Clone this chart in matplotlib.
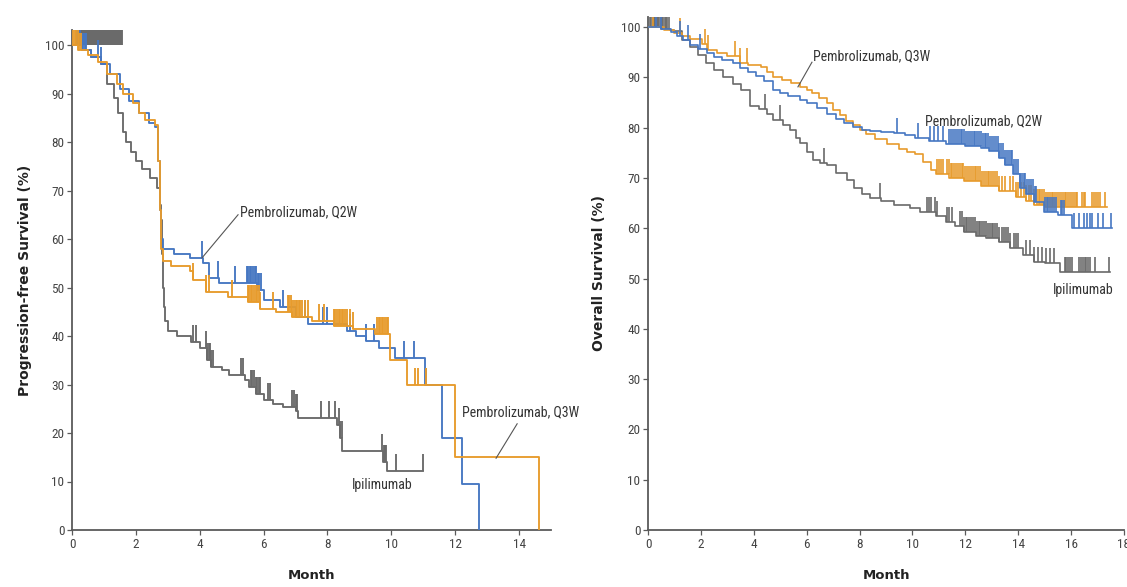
import numpy as np
import matplotlib.pyplot as plt
from matplotlib import font_manager

# colours for the three arms
c_q2w = '#4677c2'
c_q3w = '#e79b2c'
c_ipi = '#6a6a6a'

## progression-free survival, step points (month, %)
pfs_q2w_t = [0, 0.3, 0.6, 0.9, 1.2, 1.5, 1.8, 2.1, 2.4, 2.6, 2.7, 2.75, 2.8, 2.85, 3.2, 3.7, 4.1, 4.3, 4.6,
             5.8, 6.0, 6.5, 7.0, 7.4, 8.6, 8.9, 9.2, 9.6, 10.1, 11.05, 11.6, 12.2, 12.75]
pfs_q2w_s = [100, 99, 97.5, 96, 94, 91, 88.5, 86, 84, 83, 76, 66, 60, 58, 57, 56, 55, 52, 51,
             49.5, 47.5, 46, 44, 42.5, 41, 40, 39, 37.5, 35.5, 30, 19, 9.5, 0]
pfs_q2w_cens = [0.15, 0.2, 0.25, 0.3, 0.35, 0.4, 0.45, 0.8, 0.9, 4.06, 4.58, 5.1, 5.47, 5.52, 5.57, 5.62,
                5.67, 5.72, 5.77, 5.82, 5.87, 5.92, 6.6, 7.3, 7.87, 8.0, 8.7, 9.2, 9.45, 10.4, 10.7, 11.1]

pfs_q3w_t = [0, 0.2, 0.5, 0.8, 1.1, 1.4, 1.6, 1.9, 2.1, 2.3, 2.6, 2.7, 2.75, 2.8, 2.85, 3.1, 3.7, 3.8, 4.2,
             4.9, 5.5, 5.9, 6.4, 6.9, 7.5, 8.2, 8.8, 9.5, 9.95, 10.5, 12.0, 14.62]
pfs_q3w_s = [100, 99, 98, 96.5, 94, 92, 90, 88, 86, 84.5, 83.5, 76, 66, 58, 55.5, 54.5, 53.5, 51.5, 49,
             48, 47, 45.5, 45, 44, 43, 42, 41.5, 40.5, 35, 30, 15, 0]
pfs_q3w_cens = [0.03, 0.08, 0.13, 0.18, 0.23, 0.28, 3.8, 4.2, 4.3, 5.0, 5.5, 5.55, 5.6, 5.65, 5.7, 5.75,
                5.8, 5.85, 5.9, 6.3, 6.75, 6.8, 6.85, 6.9, 6.95, 7.0, 7.05, 7.1, 7.15, 7.2, 7.3, 7.4,
                7.75, 7.9, 8.2, 8.25, 8.3, 8.35, 8.4, 8.45, 8.5, 8.55, 8.6, 8.7, 8.8, 9.55, 9.6, 9.65,
                9.7, 9.75, 9.8, 9.85, 9.9, 10.75, 10.85, 11.1]

pfs_ipi_t = [0, 0.3, 0.6, 0.9, 1.1, 1.3, 1.45, 1.6, 1.7, 1.85, 2.0, 2.2, 2.45, 2.65, 2.75, 2.8, 2.83,
             2.86, 2.88, 2.92, 3.0, 3.3, 3.73, 4.0, 4.22, 4.35, 4.7, 4.93, 5.41, 5.55, 5.75, 6.0, 6.3,
             6.61, 7.0, 7.09, 8.29, 8.4, 8.47, 9.74, 9.86]
pfs_ipi_s = [100, 99, 97.5, 96, 92, 89, 86, 82, 80, 78, 76, 74.5, 72.5, 70.5, 67, 64, 57,
             50, 46, 43, 41, 40, 38.8, 37.5, 35, 33.7, 33, 32, 31, 29.5, 28, 26.9, 26,
             25.4, 24.5, 23.1, 21.7, 19, 16.2, 14, 12.1]
pfs_ipi_end = 11.0
pfs_ipi_cens = [3.79, 3.89, 4.2, 4.24, 4.28, 4.32, 4.36, 4.4, 5.29, 5.35, 5.6, 5.65, 5.7, 5.75, 5.8,
                5.85, 5.9, 6.15, 6.2, 6.9, 6.95, 7.0, 7.05, 7.81, 8.05, 8.23, 8.36, 8.4, 8.44,
                9.72, 9.76, 9.8, 9.84, 10.16, 11.0]
# patients censored at the start, drawn on the 100% line
pfs_ipi_start_cens = [0.22, 0.28, 0.34, 0.4, 0.46, 0.52, 0.58, 0.64, 0.7, 0.76, 0.82, 0.88, 0.94,
                      1.0, 1.06, 1.12, 1.18, 1.24, 1.3, 1.36, 1.42, 1.48, 1.54]

## overall survival, step points (month, %)
os_q2w_t = [0, 0.5, 0.86, 1.1, 1.34, 1.6, 1.9, 2.22, 2.5, 2.8, 3.22, 3.48, 3.8, 4.1, 4.4, 4.74, 5.0, 5.3,
            5.75, 6.0, 6.4, 6.76, 7.1, 7.4, 7.76, 8.1, 8.38, 8.8, 9.3, 9.7, 10.09, 10.62, 11.28, 12.0,
            12.6, 12.9, 13.26, 13.5, 13.79, 14.05, 14.3, 14.58, 14.97, 15.5, 16.03]
os_q2w_s = [100, 99.6, 99, 98.2, 97.4, 96.5, 95.6, 94.8, 94, 93.4, 92.8, 91.8, 91, 90.2, 89.3, 87.5, 86.8,
            86.2, 85.5, 84.8, 83.8, 82.8, 81.8, 81, 80.2, 79.6, 79.3, 79.1, 79.0, 78.5, 78.0, 77.3, 76.7,
            76.3, 76.0, 75.4, 74.0, 72.5, 70.7, 68.0, 66.7, 65.3, 63.3, 62.6, 60.0]
os_q2w_end = 17.55
os_q2w_cens = [0.3, 0.5, 1.21, 1.52, 1.97, 9.4, 10.22, 10.66, 10.8, 10.95, 11.16, 11.4, 11.47, 11.54,
               11.61, 11.68, 11.75, 11.82, 11.89, 11.96, 12.03, 12.1, 12.17, 12.24, 12.31, 12.38, 12.45,
               12.52, 12.59, 12.66, 12.73, 12.8, 12.87, 12.94, 13.01, 13.08, 13.15, 13.22, 13.29, 13.36,
               13.43, 13.5, 13.57, 13.64, 13.71, 13.78, 13.85, 13.92, 13.99, 14.06, 14.13, 14.2, 14.27,
               14.34, 14.41, 14.48, 14.55, 14.62, 14.69, 15.0, 15.07, 15.14, 15.21, 15.28, 15.35, 15.42,
               15.6, 15.67, 15.74, 16.1, 16.3, 16.5, 16.6, 16.7, 16.8, 17.0, 17.2, 17.5]

os_q3w_t = [0, 0.6, 1.0, 1.3, 1.6, 2.05, 2.22, 2.6, 3.0, 3.48, 3.8, 4.29, 4.5, 4.74, 5.08, 5.4, 5.75, 6.0,
            6.2, 6.45, 6.76, 7.0, 7.25, 7.5, 7.76, 8.0, 8.25, 8.6, 9.04, 9.5, 9.8, 10.09, 10.4, 10.7,
            10.89, 11.4, 11.94, 12.6, 13.26, 13.9, 14.3, 14.58, 15.0]
os_q3w_s = [100, 99.5, 98.8, 98.2, 97.6, 96.7, 95.4, 94.8, 94.2, 92.8, 92.5, 92.0, 91, 90.1, 89.4, 88.8,
            88.1, 87.5, 86.8, 85.8, 84.8, 83.5, 82.5, 81.4, 80.5, 79.6, 78.7, 77.8, 76.7, 75.8, 75.2, 74.7,
            73.2, 71.5, 70.7, 70.0, 69.3, 68.3, 67.3, 66.2, 65.5, 64.7, 64.2]
os_q3w_end = 17.35
os_q3w_cens = [0.2, 1.21, 2.15, 2.27, 3.29, 3.48, 3.73, 10.92, 11.0, 11.08, 11.16, 11.3, 11.37, 11.44,
               11.51, 11.58, 11.65, 11.72, 11.79, 11.86, 11.93, 12.0, 12.07, 12.14, 12.21, 12.28, 12.35,
               12.42, 12.49, 12.56, 12.63, 12.7, 12.77, 12.84, 12.91, 12.98, 13.05, 13.12, 13.19, 13.26,
               13.4, 13.5, 13.69, 13.8, 13.9, 14.0, 14.1, 14.2, 14.3, 14.4, 14.5, 14.6, 14.7, 14.77,
               14.84, 14.91, 14.98, 15.05, 15.12, 15.19, 15.26, 15.33, 15.4, 15.47, 15.54, 15.61, 15.68,
               15.75, 15.82, 15.89, 15.96, 16.03, 16.1, 16.17, 16.24, 16.4, 16.47, 16.54, 16.8, 16.87,
               16.94, 17.01, 17.08, 17.3]

os_ipi_t = [0, 0.5, 0.83, 1.0, 1.3, 1.6, 1.9, 2.2, 2.5, 2.85, 3.2, 3.5, 3.86, 4.2, 4.5, 4.74, 5.1, 5.37,
            5.6, 5.75, 6.0, 6.25, 6.5, 6.76, 7.1, 7.51, 7.8, 8.1, 8.38, 8.8, 9.3, 9.9, 10.3, 10.9, 11.28,
            11.6, 11.94, 12.4, 12.8, 13.26, 13.7, 14.18, 14.58, 15.0, 15.57]
os_ipi_s = [100, 99.6, 99.4, 99.2, 97.5, 96.0, 94.5, 92.8, 91.5, 90.1, 88.6, 87.5, 84.2, 83.6, 82.8, 81.5,
            80.5, 79.5, 78, 76.9, 75.2, 73.6, 73, 72.6, 71, 69.6, 68, 66.8, 66, 65.5, 64.7, 64, 63.3,
            62.5, 61.3, 60.5, 59.3, 58.5, 58, 57.3, 56, 54.7, 53.3, 53, 51.3]
os_ipi_end = 17.48
os_ipi_cens = [0.08, 0.13, 0.18, 0.23, 0.28, 0.33, 0.38, 0.43, 0.48, 0.53, 0.58, 0.63, 0.68, 0.73, 0.78,
               4.42, 5.0, 6.66, 8.77, 10.55, 10.62, 10.7, 10.85, 10.92, 11.3, 11.4, 11.5, 11.8, 11.87,
               11.94, 12.01, 12.08, 12.15, 12.22, 12.29, 12.36, 12.43, 12.5, 12.57, 12.64, 12.71, 12.78,
               12.85, 12.92, 12.99, 13.06, 13.13, 13.2, 13.27, 13.4, 13.47, 13.54, 13.61, 13.7, 13.85,
               13.92, 14.0, 14.3, 14.45, 14.6, 14.75, 14.9, 15.05, 15.2, 15.35, 15.75, 15.82, 15.89,
               15.96, 16.03, 16.3, 16.37, 16.44, 16.51, 16.58, 16.65, 16.72, 16.9, 17.45]

# pick a narrow face for the labels if one is installed
installed = {f.name for f in font_manager.fontManager.ttflist}
narrow = next(n for n in ['Liberation Sans Narrow', 'DejaVu Sans Condensed', 'Roboto Condensed',
                          'Open Sans Condensed', 'Liberation Sans', 'DejaVu Sans'] if n in installed)


def surv_at(t, s, x):
    idx = np.searchsorted(t, x, side='right') - 1
    return np.asarray(s)[idx]


def km(ax, t, s, cens, color, end=None, h=3.5, lw=1.35, z=2):
    t = list(t)
    s = list(s)
    if end is not None:
        t = t + [end]
        s = s + [s[-1]]
    ax.step(t, s, where='post', color=color, lw=lw, zorder=z)
    y = surv_at(t, s, cens)
    ax.vlines(cens, y, y + h, color=color, lw=lw, zorder=z)


def style(ax, xmax, xt):
    for sp in ['top', 'right']:
        ax.spines[sp].set_visible(False)
    for sp in ['left', 'bottom']:
        ax.spines[sp].set_color('#5a5a5a')
        ax.spines[sp].set_linewidth(1.3)
    ax.set_xlim(0, xmax)
    ax.set_xticks(xt)
    ax.set_yticks(range(0, 101, 10))
    ax.tick_params(direction='out', length=3.5, width=0.9, color='#5a5a5a',
                   labelsize=9.5, labelcolor='#444444', pad=2)
    for lab in ax.get_xticklabels() + ax.get_yticklabels():
        lab.set_family(narrow)
    ax.set_xlabel('Month', fontsize=9.5, fontweight='bold', color='#222222', labelpad=13)


fig = plt.figure(figsize=(11.27, 5.87), dpi=100)

## progression-free survival
ax1 = fig.add_axes([72 / 1127, 57 / 587, 479 / 1127, 103 * 4.85 / 587])
ax1.set_ylim(0, 103)
km(ax1, pfs_ipi_t, pfs_ipi_s, pfs_ipi_cens, c_ipi, end=pfs_ipi_end)
ax1.vlines(pfs_ipi_start_cens, 100, 103, color=c_ipi, lw=2.8, zorder=2)
km(ax1, pfs_q2w_t, pfs_q2w_s, pfs_q2w_cens, c_q2w, z=3)
km(ax1, pfs_q3w_t, pfs_q3w_s, pfs_q3w_cens, c_q3w, z=4)
style(ax1, 15, range(0, 15, 2))
ax1.set_ylabel('Progression-free Survival (%)', fontsize=10, fontweight='bold', color='#222222', labelpad=9)

lab_kw = dict(fontsize=10, family=narrow, color='#333333', va='center')
ax1.text(5.26, 65.6, 'Pembrolizumab, Q2W', **lab_kw)
ax1.plot([5.2, 4.07], [65.0, 56.1], color='#555555', lw=0.8, zorder=5)
ax1.text(12.2, 24.3, 'Pembrolizumab, Q3W', **lab_kw)
ax1.plot([13.94, 13.28], [21.9, 14.8], color='#555555', lw=0.8, zorder=5)
ax1.text(8.77, 9.3, 'Ipilimumab', **lab_kw)

## overall survival
ax2 = fig.add_axes([648 / 1127, 57 / 587, 476 / 1127, 102 * 5.03 / 587])
ax2.set_ylim(0, 102)
km(ax2, os_ipi_t, os_ipi_s, os_ipi_cens, c_ipi, end=os_ipi_end, h=3, lw=1.2)
km(ax2, os_q3w_t, os_q3w_s, os_q3w_cens, c_q3w, end=os_q3w_end, h=3, lw=1.2, z=3)
km(ax2, os_q2w_t, os_q2w_s, os_q2w_cens, c_q2w, end=os_q2w_end, h=3, lw=1.2, z=4)
style(ax2, 18, range(0, 19, 2))
ax2.set_ylabel('Overall Survival (%)', fontsize=10, fontweight='bold', color='#222222', labelpad=11)

ax2.text(6.24, 94.2, 'Pembrolizumab, Q3W', **lab_kw)
ax2.plot([6.2, 5.67], [93.0, 88.1], color='#555555', lw=0.8, zorder=5)
ax2.text(10.47, 81.3, 'Pembrolizumab, Q2W', **lab_kw)
ax2.text(15.31, 47.7, 'Ipilimumab', **lab_kw)

fig.savefig('out.png', dpi=100)
